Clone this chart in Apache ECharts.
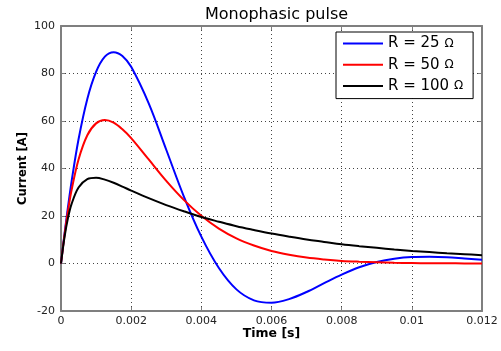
<!DOCTYPE html>
<html>
<head>
<meta charset="utf-8">
<script src="https://cdn.jsdelivr.net/npm/echarts@6/dist/echarts.min.js"></script>
<style>html,body{margin:0;padding:0;background:#fff}#c{width:501px;height:351px}</style>
</head>
<body>
<div id="c"></div>
<script>
var timeS = [0,0.0001,0.0002,0.0003,0.0005,0.00075,0.001,0.00125,0.0015,0.00175,0.002,0.0025,0.003,0.0035,0.004,0.0045,0.005,0.0055,0.006,0.0065,0.007,0.0075,0.008,0.0085,0.009,0.0095,0.01,0.0105,0.011,0.0115,0.012];
var r25 = [0,12.5,23.9,34.4,52.3,69.3,80.7,87.1,89.0,87.4,82.8,67.4,47.9,28.3,11.3,-1.9,-10.9,-15.5,-16.5,-15.0,-12.0,-8.3,-4.7,-1.6,0.6,2.0,2.7,2.8,2.6,2.1,1.6];
var r50 = [0,12.0,22.2,30.8,43.8,54.0,59.0,60.4,59.3,56.5,52.8,43.8,34.8,26.8,20.1,14.7,10.6,7.6,5.3,3.7,2.5,1.7,1.1,0.75,0.5,0.3,0.2,0.12,0.08,0.04,0.02];
var r100 = [0,11.1,19.2,25.0,32.0,35.5,36.1,35.3,34.0,32.4,30.7,27.5,24.6,22.0,19.6,17.6,15.7,14.1,12.6,11.3,10.1,9.1,8.1,7.3,6.6,5.9,5.3,4.8,4.3,3.9,3.5];
var seriesNames = ['R = 25 Ω','R = 50 Ω','R = 100 Ω'];
var seriesColors = ['#0000ff','#ff0000','#000000'];
var xTickLabels = ['0','0.002','0.004','0.006','0.008','0.01','0.012'];
var yTickLabels = ['-20','0','20','40','60','80','100'];

function pairs(ys){ return timeS.map(function(t,i){ return [t, ys[i]]; }); }
var FONT = 'DejaVu Sans';
var axisGray = '#7f7f7f';
var chart = echarts.init(document.getElementById('c'), null, {renderer:'canvas'});
var gridLine = {show:true, lineStyle:{color:'#444', type:[1,3], width:1}};
var opt = {
  backgroundColor:'#fff',
  animation:false,
  title:{text:'Monophasic pulse', left:271.5, textAlign:'center', top:2,
    textStyle:{fontFamily:FONT, fontSize:16, fontWeight:'normal', color:'#000'}},
  legend:{
    left:336, top:32, orient:'vertical', icon:'rect', itemWidth:40, itemHeight:2, itemGap:6.3,
    padding:[4,10,5,7], borderColor:'#000', borderWidth:1, backgroundColor:'#fff',
    data:seriesNames,
    formatter:function(n){ return '{a|'+n.replace(' Ω',' ')+'}{o|Ω}'; },
    textStyle:{fontFamily:FONT, fontSize:15, color:'#000',
      rich:{a:{fontFamily:FONT, fontSize:15, lineHeight:14, color:'#000'}, o:{fontFamily:FONT, fontSize:12, lineHeight:14, color:'#000'}}}
  },
  grid:{left:61, right:19, top:26, bottom:40},
  xAxis:[{
    type:'value', min:0, max:0.012, interval:0.002, position:'bottom',
    name:'Time [s]', nameLocation:'middle', nameGap:16, nameMoveOverlap:false,
    nameTextStyle:{fontFamily:FONT, fontSize:12.5, fontWeight:'bold', color:'#000', verticalAlign:'top'},
    axisLine:{show:true, onZero:false, lineStyle:{color:axisGray, width:2}},
    axisTick:{show:true, inside:true, length:4, lineStyle:{color:axisGray}},
    axisLabel:{fontFamily:FONT, fontSize:11, color:'#222', margin:5,
      formatter:function(v){ return xTickLabels[Math.round(v/0.002)]; }},
    splitLine:gridLine
  },{
    type:'value', min:0, max:0.012, interval:0.002, position:'top',
    axisLine:{show:true, onZero:false, lineStyle:{color:axisGray, width:2}},
    axisTick:{show:true, inside:true, length:4, lineStyle:{color:axisGray}},
    axisLabel:{show:false}, splitLine:{show:false}
  }],
  yAxis:[{
    type:'value', min:-20, max:100, interval:20, position:'left',
    name:'Current [A]', nameLocation:'middle', nameGap:32, nameRotate:90, nameMoveOverlap:false,
    nameTextStyle:{fontFamily:FONT, fontSize:11.5, fontWeight:'bold', color:'#000'},
    axisLine:{show:true, onZero:false, lineStyle:{color:axisGray, width:2}},
    axisTick:{show:true, inside:true, length:4, lineStyle:{color:axisGray}},
    axisLabel:{fontFamily:FONT, fontSize:11, color:'#222', margin:6,
      formatter:function(v){ return yTickLabels[Math.round((v+20)/20)]; }},
    splitLine:gridLine
  },{
    type:'value', min:-20, max:100, interval:20, position:'right',
    axisLine:{show:true, onZero:false, lineStyle:{color:axisGray, width:2}},
    axisTick:{show:true, inside:true, length:4, lineStyle:{color:axisGray}},
    axisLabel:{show:false}, splitLine:{show:false}
  }],
  series:[r25,r50,r100].map(function(ys,i){
    return {name:seriesNames[i], type:'line', xAxisIndex:0, yAxisIndex:0,
      data:pairs(ys), smooth:0.35, symbol:'none', clip:true,
      lineStyle:{color:seriesColors[i], width:2}, itemStyle:{color:seriesColors[i]}};
  })
};
chart.setOption(opt);
</script>
</body>
</html>
